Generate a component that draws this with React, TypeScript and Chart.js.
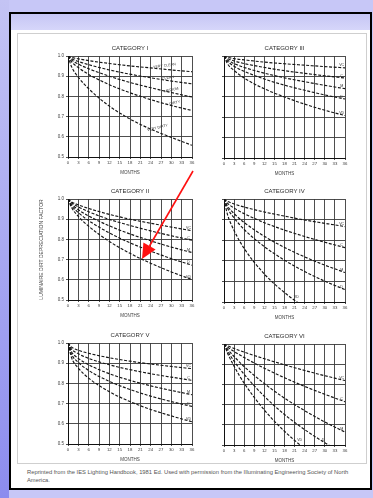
import React, { useEffect, useRef } from "react";
import { Chart, registerables } from "chart.js";

Chart.register(...registerables);
Chart.defaults.font.family = "'Liberation Sans', Arial, sans-serif";

// ---- data ----
const MONTHS = [0, 1, 3, 6, 12, 18, 24, 30, 36];
const X_TICKS = [0, 3, 6, 9, 12, 15, 18, 21, 24, 27, 30, 33, 36];
const Y_TICKS = [0.5, 0.6, 0.7, 0.8, 0.9, 1.0];
const CURVE_NAMES = ["VC", "C", "M", "D", "VD"];
const CAT1_LABELS = ["VERY CLEAN", "CLEAN", "MEDIUM", "DIRTY", "VERY DIRTY"];
const TITLES = ["CATEGORY I", "CATEGORY III", "CATEGORY II", "CATEGORY IV", "CATEGORY V", "CATEGORY VI"];
const Y_TITLE = "LUMINAIRE DIRT DEPRECIATION FACTOR";
const CAPTION_1 = "Reprinted from the IES Lighting Handbook, 1981 Ed. Used with permission from the Illuminating Engineering Society of North";
const CAPTION_2 = "America.";

const CAT1_VC = [1, 0.993, 0.986, 0.977, 0.963, 0.951, 0.941, 0.931, 0.922];
const CAT1_C = [1, 0.987, 0.973, 0.957, 0.931, 0.91, 0.892, 0.876, 0.862];
const CAT1_M = [1, 0.981, 0.96, 0.937, 0.9, 0.869, 0.843, 0.819, 0.797];
const CAT1_D = [1, 0.972, 0.943, 0.909, 0.858, 0.818, 0.784, 0.755, 0.73];
const CAT1_VD = [1, 0.948, 0.895, 0.838, 0.752, 0.688, 0.638, 0.597, 0.558];

const CAT2_VC = [1, 0.986, 0.971, 0.953, 0.924, 0.9, 0.88, 0.861, 0.843];
const CAT2_C = [1, 0.982, 0.961, 0.937, 0.899, 0.869, 0.842, 0.818, 0.796];
const CAT2_M = [1, 0.975, 0.947, 0.916, 0.867, 0.827, 0.793, 0.762, 0.735];
const CAT2_D = [1, 0.968, 0.933, 0.893, 0.832, 0.783, 0.742, 0.705, 0.672];
const CAT2_VD = [1, 0.959, 0.914, 0.865, 0.79, 0.731, 0.682, 0.639, 0.601];

const CAT3_VC = [1, 0.994, 0.987, 0.981, 0.97, 0.962, 0.955, 0.948, 0.942];
const CAT3_C = [1, 0.988, 0.976, 0.963, 0.944, 0.928, 0.915, 0.903, 0.892];
const CAT3_M = [1, 0.981, 0.963, 0.944, 0.916, 0.893, 0.874, 0.856, 0.84];
const CAT3_D = [1, 0.975, 0.95, 0.925, 0.887, 0.857, 0.832, 0.809, 0.789];
const CAT3_VD = [1, 0.963, 0.929, 0.892, 0.839, 0.799, 0.764, 0.734, 0.708];

const CAT4_VC = [1, 0.989, 0.976, 0.961, 0.937, 0.917, 0.898, 0.882, 0.866];
const CAT4_C = [1, 0.98, 0.956, 0.929, 0.885, 0.849, 0.818, 0.79, 0.764];
const CAT4_M = [1, 0.967, 0.929, 0.886, 0.819, 0.765, 0.719, 0.679, 0.643];
const CAT4_D = [1, 0.957, 0.908, 0.852, 0.769, 0.703, 0.648, 0.601, 0.56];
const CAT4_VD = [1, 0.927, 0.847, 0.76, 0.636, 0.546, 0.475, 0.417, 0.369];

const CAT5_VC = [1, 0.98, 0.964, 0.949, 0.927, 0.91, 0.896, 0.884, 0.873];
const CAT5_C = [1, 0.97, 0.947, 0.924, 0.892, 0.868, 0.848, 0.831, 0.815];
const CAT5_M = [1, 0.957, 0.924, 0.892, 0.848, 0.815, 0.788, 0.765, 0.744];
const CAT5_D = [1, 0.945, 0.904, 0.864, 0.81, 0.77, 0.737, 0.71, 0.686];
const CAT5_VD = [1, 0.929, 0.876, 0.826, 0.759, 0.71, 0.671, 0.639, 0.61];

const CAT6_VC = [1, 0.992, 0.978, 0.96, 0.927, 0.897, 0.869, 0.843, 0.819];
const CAT6_C = [1, 0.986, 0.963, 0.933, 0.88, 0.833, 0.79, 0.751, 0.714];
const CAT6_M = [1, 0.976, 0.938, 0.888, 0.804, 0.732, 0.67, 0.614, 0.564];
const CAT6_D = [1, 0.967, 0.915, 0.85, 0.741, 0.651, 0.576, 0.511, 0.454];
const CAT6_VD = [1, 0.957, 0.89, 0.806, 0.673, 0.568, 0.482, 0.412, 0.353];

// label anchors (month, value) for curve names
const CAT1_LABEL_POS = [[28, 0.952, -8], [29, 0.892, -10], [30, 0.832, -12], [31, 0.768, -14], [26, 0.645, -14]];
const CAT2_LABEL_POS = [[35, 0.855], [35, 0.808], [35, 0.748], [35, 0.686], [35, 0.614]];
const CAT3_LABEL_POS = [[35, 0.954], [35, 0.904], [35, 0.852], [35, 0.8], [35, 0.72]];
const CAT4_LABEL_POS = [[35, 0.878], [35, 0.776], [35, 0.656], [35, 0.572], [21.5, 0.525]];
const CAT5_LABEL_POS = [[35, 0.885], [35, 0.827], [35, 0.756], [35, 0.698], [35, 0.622]];
const CAT6_LABEL_POS = [[35, 0.83], [35, 0.726], [35, 0.577], [29.5, 0.525], [22.5, 0.525]];

type Spec = {
  title: string;
  curves: number[][];
  labels: string[];
  labelPos: number[][];
  col: 0 | 1;
  plotTop: number;
  plotBottom: number;
  showY: boolean;
  yTitle?: string;
};

const SPECS: Spec[] = [
  { title: TITLES[0], curves: [CAT1_VC, CAT1_C, CAT1_M, CAT1_D, CAT1_VD], labels: CAT1_LABELS, labelPos: CAT1_LABEL_POS, col: 0, plotTop: 56, plotBottom: 157, showY: true },
  { title: TITLES[1], curves: [CAT3_VC, CAT3_C, CAT3_M, CAT3_D, CAT3_VD], labels: CURVE_NAMES, labelPos: CAT3_LABEL_POS, col: 1, plotTop: 56, plotBottom: 158, showY: false },
  { title: TITLES[2], curves: [CAT2_VC, CAT2_C, CAT2_M, CAT2_D, CAT2_VD], labels: CURVE_NAMES, labelPos: CAT2_LABEL_POS, col: 0, plotTop: 199, plotBottom: 300, showY: true, yTitle: Y_TITLE },
  { title: TITLES[3], curves: [CAT4_VC, CAT4_C, CAT4_M, CAT4_D, CAT4_VD], labels: CURVE_NAMES, labelPos: CAT4_LABEL_POS, col: 1, plotTop: 199, plotBottom: 302, showY: false },
  { title: TITLES[4], curves: [CAT5_VC, CAT5_C, CAT5_M, CAT5_D, CAT5_VD], labels: CURVE_NAMES, labelPos: CAT5_LABEL_POS, col: 0, plotTop: 343, plotBottom: 444, showY: true },
  { title: TITLES[5], curves: [CAT6_VC, CAT6_C, CAT6_M, CAT6_D, CAT6_VD], labels: CURVE_NAMES, labelPos: CAT6_LABEL_POS, col: 1, plotTop: 344, plotBottom: 445, showY: false },
];

const COLS = [
  { canvasLeft: 30, width: 170, plotLeft: 68, plotRight: 192 },
  { canvasLeft: 200, width: 173, plotLeft: 224, plotRight: 345 },
];
const TOP_PAD = 20;
const X_AXIS_H = 18;

const TEXT = "#3c3c3c";
const GRID = "#3a3a3a";

function Panel({ spec }: { spec: Spec }) {
  const ref = useRef<HTMLCanvasElement>(null);
  const col = COLS[spec.col];
  const top = spec.plotTop - TOP_PAD;
  const height = spec.plotBottom + X_AXIS_H - top;
  const yWidth = col.plotLeft - col.canvasLeft;
  const padRight = col.canvasLeft + col.width - col.plotRight;

  useEffect(() => {
    const labelPlugin = {
      id: "labels",
      afterDatasetsDraw(chart: any) {
        const { ctx, chartArea, scales } = chart;
        ctx.save();
        ctx.fillStyle = "#2a2a2a";
        ctx.font = "6px 'Liberation Sans', Arial, sans-serif";
        ctx.textAlign = "center";
        ctx.textBaseline = "middle";
        ctx.fillText(spec.title, (chartArea.left + chartArea.right) / 2, chartArea.top - 8);
        ctx.font = "3.6px 'Liberation Sans', Arial, sans-serif";
        ctx.fillStyle = "#333";
        spec.labels.forEach((t, i) => {
          const p = spec.labelPos[i];
          const x = scales.x.getPixelForValue(p[0]);
          const y = scales.y.getPixelForValue(p[1]);
          ctx.save();
          ctx.translate(x, y);
          ctx.rotate(((p[2] || 0) * Math.PI) / 180);
          ctx.fillText(t, 0, 0);
          ctx.restore();
        });
        ctx.restore();
      },
    };

    const chart = new Chart(ref.current as HTMLCanvasElement, {
      type: "line",
      data: {
        datasets: spec.curves.map((c, i) => ({
          label: spec.labels[i],
          data: MONTHS.map((m, j) => ({ x: m, y: c[j] })),
          borderColor: "#151515",
          borderWidth: 1.15,
          borderDash: [3, 1.6],
          pointRadius: 0,
          fill: false,
          cubicInterpolationMode: "monotone",
        })),
      },
      options: {
        responsive: false,
        animation: false,
        devicePixelRatio: 1,
        layout: { padding: { top: TOP_PAD, right: padRight, bottom: 0, left: 0 } },
        plugins: { legend: { display: false }, tooltip: { enabled: false }, title: { display: false } },
        scales: {
          x: {
            type: "linear",
            min: 0,
            max: 36,
            afterBuildTicks: (s: any) => {
              s.ticks = X_TICKS.map((v) => ({ value: v }));
            },
            afterFit: (s: any) => {
              s.height = X_AXIS_H;
            },
            ticks: { autoSkip: false, maxRotation: 0, minRotation: 0, color: TEXT, font: { size: 4.3 }, padding: 1.5, callback: (v: any) => String(v) },
            grid: { color: GRID, lineWidth: 0.9, tickLength: 2 },
            border: { color: "#111", width: 1 },
            title: { display: true, text: "MONTHS", color: TEXT, font: { size: 4.5 }, padding: 0 },
          },
          y: {
            type: "linear",
            min: 0.5,
            max: 1.0,
            afterBuildTicks: (s: any) => {
              s.ticks = Y_TICKS.map((v) => ({ value: v }));
            },
            afterFit: (s: any) => {
              s.width = yWidth;
            },
            ticks: { display: spec.showY, color: TEXT, font: { size: 4.5 }, padding: 2, callback: (v: any) => Number(v).toFixed(1) },
            grid: { color: GRID, lineWidth: 0.9, tickLength: 2 },
            border: { color: "#111", width: 1 },
            title: spec.yTitle
              ? { display: true, text: spec.yTitle, color: TEXT, font: { size: 5 }, padding: { top: 9, bottom: 0 } }
              : { display: false },
          },
        },
      } as any,
      plugins: [labelPlugin],
    });
    return () => chart.destroy();
  }, []);

  return (
    <canvas
      ref={ref}
      width={col.width}
      height={height}
      style={{ position: "absolute", left: col.canvasLeft, top, width: col.width, height }}
    />
  );
}

export default function App() {
  return (
    <div
      style={{
        position: "absolute",
        left: 0,
        top: 0,
        width: 373,
        height: 498,
        overflow: "hidden",
        background: "#c7c7f7",
        fontFamily: "'Liberation Sans', Arial, sans-serif",
      }}
    >
      <div style={{ position: "absolute", left: 0, top: 0, width: 9, height: 498, background: "linear-gradient(#c4c4f4, #8c8cee)" }} />
      <div
        style={{
          position: "absolute",
          left: 9,
          top: 12,
          width: 363,
          height: 478,
          boxSizing: "border-box",
          border: "2px solid #000",
          background: "#fff",
        }}
      />
      <div style={{ position: "absolute", left: 11, top: 14, width: 359, height: 16, background: "linear-gradient(#c6c6f4, #d6d6fa)" }} />
      <div style={{ position: "absolute", left: 17, top: 33, width: 350, height: 431, boxSizing: "border-box", border: "1px solid #cfcfcf" }} />
      {SPECS.map((s, i) => (
        <Panel key={i} spec={s} />
      ))}
      <div style={{ position: "absolute", left: 27, top: 468, width: 342, fontSize: 5.8, lineHeight: "8px", color: "#555", whiteSpace: "nowrap" }}>
        {CAPTION_1}
        <br />
        {CAPTION_2}
      </div>
      <svg width={373} height={498} style={{ position: "absolute", left: 0, top: 0, pointerEvents: "none" }}>
        <line x1={193} y1={171} x2={149.5} y2={246} stroke="#ff1010" strokeWidth={1.6} />
        <polygon points="142,259 155.6,249.5 143.4,242.5" fill="#ff1010" />
      </svg>
    </div>
  );
}
